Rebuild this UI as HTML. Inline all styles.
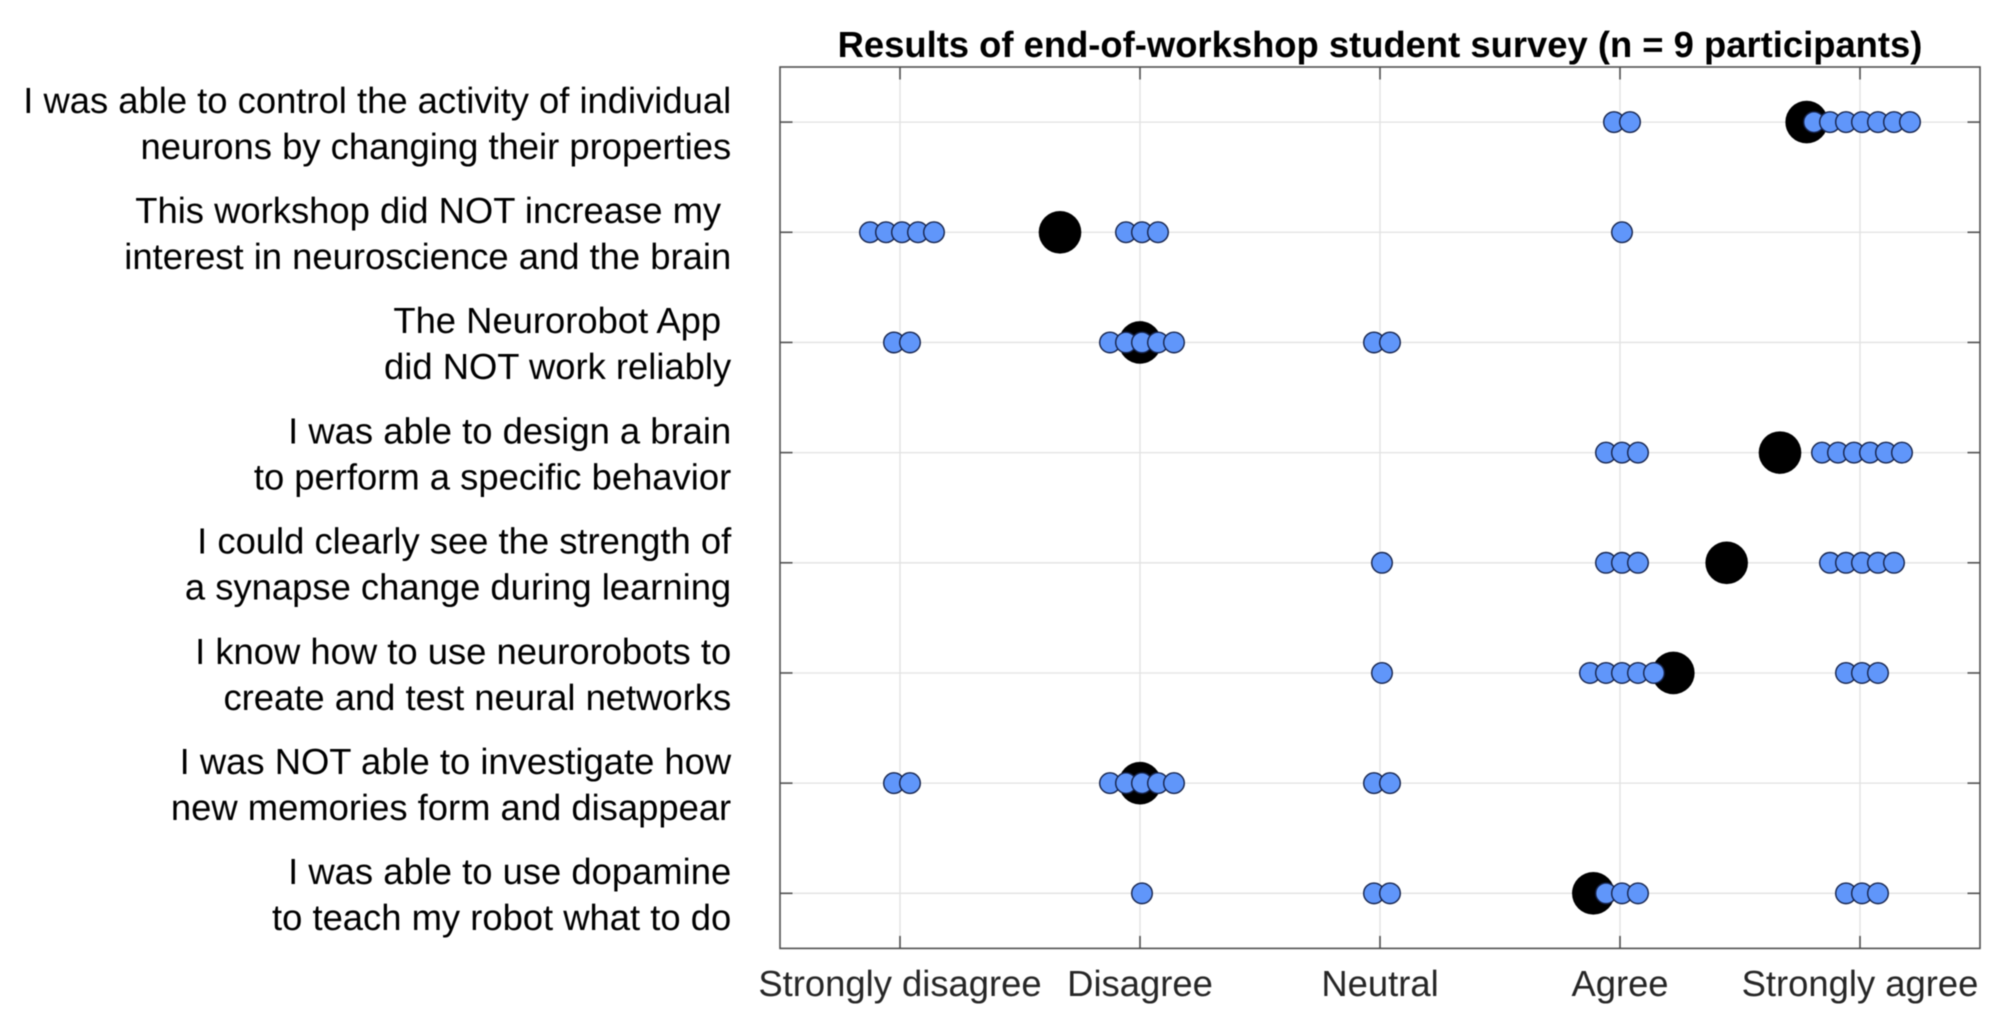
<!DOCTYPE html>
<html lang="en">
<head>
<meta charset="utf-8">
<title>Results of end-of-workshop student survey</title>
<style>
html,body{margin:0;padding:0;background:#fff;}
svg{display:block;filter:blur(0.45px);}
text{font-family:"Liberation Sans",Arial,sans-serif;white-space:pre;text-rendering:geometricPrecision;}
</style>
</head>
<body>
<svg id="chart" xmlns="http://www.w3.org/2000/svg" width="2000" height="1032" viewBox="0 0 2000 1032"></svg>
<script>
// Chart data
const chartTitle = "Results of end-of-workshop student survey (n = 9 participants)";
const responseLabels = ["Strongly disagree", "Disagree", "Neutral", "Agree", "Strongly agree"];
const statementLines = [
  ["I was able to control the activity of individual", "neurons by changing their properties"],
  ["This workshop did NOT increase my ", "interest in neuroscience and the brain"],
  ["The Neurorobot App ", "did NOT work reliably"],
  ["I was able to design a brain", "to perform a specific behavior"],
  ["I could clearly see the strength of", "a synapse change during learning"],
  ["I know how to use neurorobots to", "create and test neural networks"],
  ["I was NOT able to investigate how", "new memories form and disappear"],
  ["I was able to use dopamine", "to teach my robot what to do"]
];
// Number of participants per response (SD, D, N, A, SA), one array per statement
const countsControlNeurons = [0, 0, 0, 2, 7];
const countsNoInterest     = [5, 3, 0, 1, 0];
const countsAppUnreliable  = [2, 5, 2, 0, 0];
const countsDesignBrain    = [0, 0, 0, 3, 6];
const countsSeeSynapse     = [0, 0, 1, 3, 5];
const countsUseNeurorobots = [0, 0, 1, 5, 3];
const countsNoMemories     = [2, 5, 2, 0, 0];
const countsUseDopamine    = [0, 1, 2, 3, 3];
const statementCounts = [
  countsControlNeurons, countsNoInterest, countsAppUnreliable, countsDesignBrain,
  countsSeeSynapse, countsUseNeurorobots, countsNoMemories, countsUseDopamine
];

const NS = "http://www.w3.org/2000/svg";
const svg = document.getElementById("chart");
const plot = {left: 780, right: 1980, top: 67, bottom: 948.4};
const xMin = 0.5, xMax = 5.5, yMin = 0.5, yMax = 8.5;
const xAxis = v => plot.left + (v - xMin) / (xMax - xMin) * (plot.right - plot.left);
const yAxis = row => plot.top + (row + 1 - yMin) / (yMax - yMin) * (plot.bottom - plot.top);
const dotStep = 1 / 15;
const dotOffset = 0.0083;
const FONT = 36.4;

function make(tag, attrs, parent) {
  const el = document.createElementNS(NS, tag);
  for (const k in attrs) el.setAttribute(k, attrs[k]);
  (parent || svg).appendChild(el);
  return el;
}

// Plot background
const bg = make("rect", {x: plot.left, y: plot.top, width: plot.right - plot.left, height: plot.bottom - plot.top, fill: "#fff"});



// Grid
const gridGroup = make("g", {stroke: "#e2e2e2", "stroke-width": 1.3});


responseLabels.forEach((label, i) => {
  const line = make("line", {x1: xAxis(i + 1), x2: xAxis(i + 1), y1: plot.top, y2: plot.bottom}, gridGroup);
  
  
});
statementLines.forEach((lines, r) => {
  const line = make("line", {x1: plot.left, x2: plot.right, y1: yAxis(r), y2: yAxis(r)}, gridGroup);
  
  
});

// Mean markers (black) underneath the response dots
statementCounts.forEach((counts, r) => {
  const total = counts.reduce((a, b) => a + b, 0);
  const mean = counts.reduce((a, c, i) => a + c * (i + 1), 0) / total;
  const circle = make("circle", {cx: xAxis(mean), cy: yAxis(r), r: 21.3, fill: "#000"});
  
  
});

// Individual response dots
statementCounts.forEach((counts, r) => {
  counts.forEach((count, i) => {
    for (let k = 0; k < count; k++) {
      const v = i + 1 + dotOffset + (k - (count - 1) / 2) * dotStep;
      const dot = make("circle", {cx: xAxis(v), cy: yAxis(r), r: 10.3, fill: "#6096fa", stroke: "#16244d", "stroke-width": 1.4});
      
      
    }
  });
});

// Axes frame and ticks
const axisGroup = make("g", {stroke: "#505050", "stroke-width": 1.6, fill: "none"});


const frame = make("rect", {x: plot.left, y: plot.top, width: plot.right - plot.left, height: plot.bottom - plot.top}, axisGroup);


const TICK = 12.5;
responseLabels.forEach((label, i) => {
  const x = xAxis(i + 1);
  const t1 = make("line", {x1: x, x2: x, y1: plot.bottom, y2: plot.bottom - TICK}, axisGroup);
  
  
  const t2 = make("line", {x1: x, x2: x, y1: plot.top, y2: plot.top + TICK}, axisGroup);
  
  
});
statementLines.forEach((lines, r) => {
  const y = yAxis(r);
  const t1 = make("line", {x1: plot.left, x2: plot.left + TICK, y1: y, y2: y}, axisGroup);
  
  
  const t2 = make("line", {x1: plot.right, x2: plot.right - TICK, y1: y, y2: y}, axisGroup);
  
  
});

// X tick labels
responseLabels.forEach((label, i) => {
  const t = make("text", {x: xAxis(i + 1), y: 996, "text-anchor": "middle", "font-size": FONT, fill: "#262626"});
  t.textContent = label;
  
  
});

// Y statement labels
statementLines.forEach((lines, r) => {
  const y = yAxis(r);
  lines.forEach((str, j) => {
    const t = make("text", {x: 731.2, y: y - 9.2 + j * 46, "text-anchor": "end", "font-size": FONT, fill: "#000"});
    t.textContent = str;
    
    
  });
});

// Title
const title = make("text", {x: 1380, y: 57, "text-anchor": "middle", "font-size": FONT, "font-weight": "bold", fill: "#000"});
title.textContent = chartTitle;


</script>
</body>
</html>
